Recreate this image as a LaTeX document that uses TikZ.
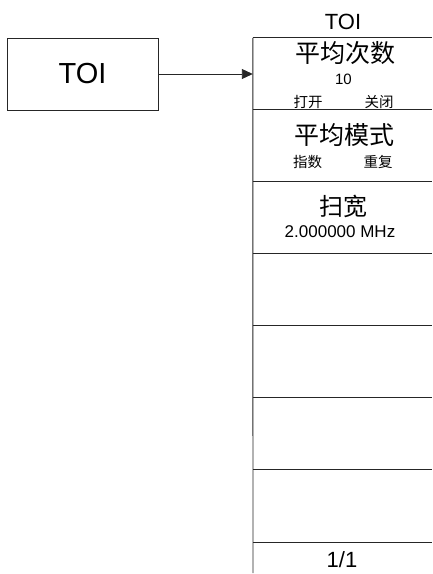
\documentclass[tikz,border=0pt]{standalone}
\usepackage{fontspec}
\setmainfont{Liberation Sans}
\newfontfamily\cjk{Noto Sans CJK SC}
\usetikzlibrary{arrows.meta}
\begin{document}
\begin{tikzpicture}[x=1pt,y=-1pt,
  line/.style={draw=black!85, line width=0.9pt},
  txt/.style={inner sep=0pt, anchor=center},
  big/.style={txt, font=\cjk\fontsize{25}{25}\selectfont},
  small/.style={txt, font=\cjk\fontsize{14.5}{15}\selectfont},
  cell/.style={minimum width=179pt, minimum height=72pt, inner sep=0pt, draw=none}]
\useasboundingbox (0,0) rectangle (432,574);
% left box
\node[line, draw, minimum width=151pt, minimum height=72pt, inner sep=0pt,
      font=\fontsize{29}{29}\selectfont] (toi) at (82.5,74) {TOI};
% menu cells
\node[cell] (c1) at (342.5,74) {};
\node[cell] (c2) at (342.5,146) {};
\node[cell] (c3) at (342.5,218) {};
\node[cell] (c4) at (342.5,290) {};
\node[cell] (c5) at (342.5,362) {};
\node[cell] (c6) at (342.5,434) {};
\node[cell] (c7) at (342.5,506) {};
\coordinate (mbot) at (253,573);
% menu lines
\draw[line] (c1.north west) -- (mbot);
\foreach \c in {c1,c2,c3,c4,c5,c6,c7}{
  \draw[line] (\c.north west) -- (\c.north east);
}
\draw[line] (c7.south west) -- (c7.south east);
% arrow
\draw[line, -{Triangle[length=11pt,width=10pt]}] (toi.east) -- (c1.west);
% title
\node[txt, font=\fontsize{22}{22}\selectfont] (title) at (343,21.5) {TOI};
% cell 1
\node[big] (t1) at (345,53) {平均次数};
\node[txt, font=\fontsize{15}{15}\selectfont] (v1) at (343.5,79) {10};
\node[small] (o1) at (308,102) {打开};
\node[small] (o2) at (379,102) {关闭};
% cell 2
\node[big] (t2) at (344,135) {平均模式};
\node[small] (o3) at (307.5,162) {指数};
\node[small] (o4) at (378,162) {重复};
% cell 3
\node[big, font=\cjk\fontsize{24}{24}\selectfont] (t3) at (343.5,206) {扫宽};
\node[txt, font=\fontsize{17}{17}\selectfont] (v3) at (340,231.5) {2.000000 MHz};
% page
\node[txt, font=\fontsize{22}{22}\selectfont] (pg) at (342,560) {1/1};
\end{tikzpicture}
\end{document}
